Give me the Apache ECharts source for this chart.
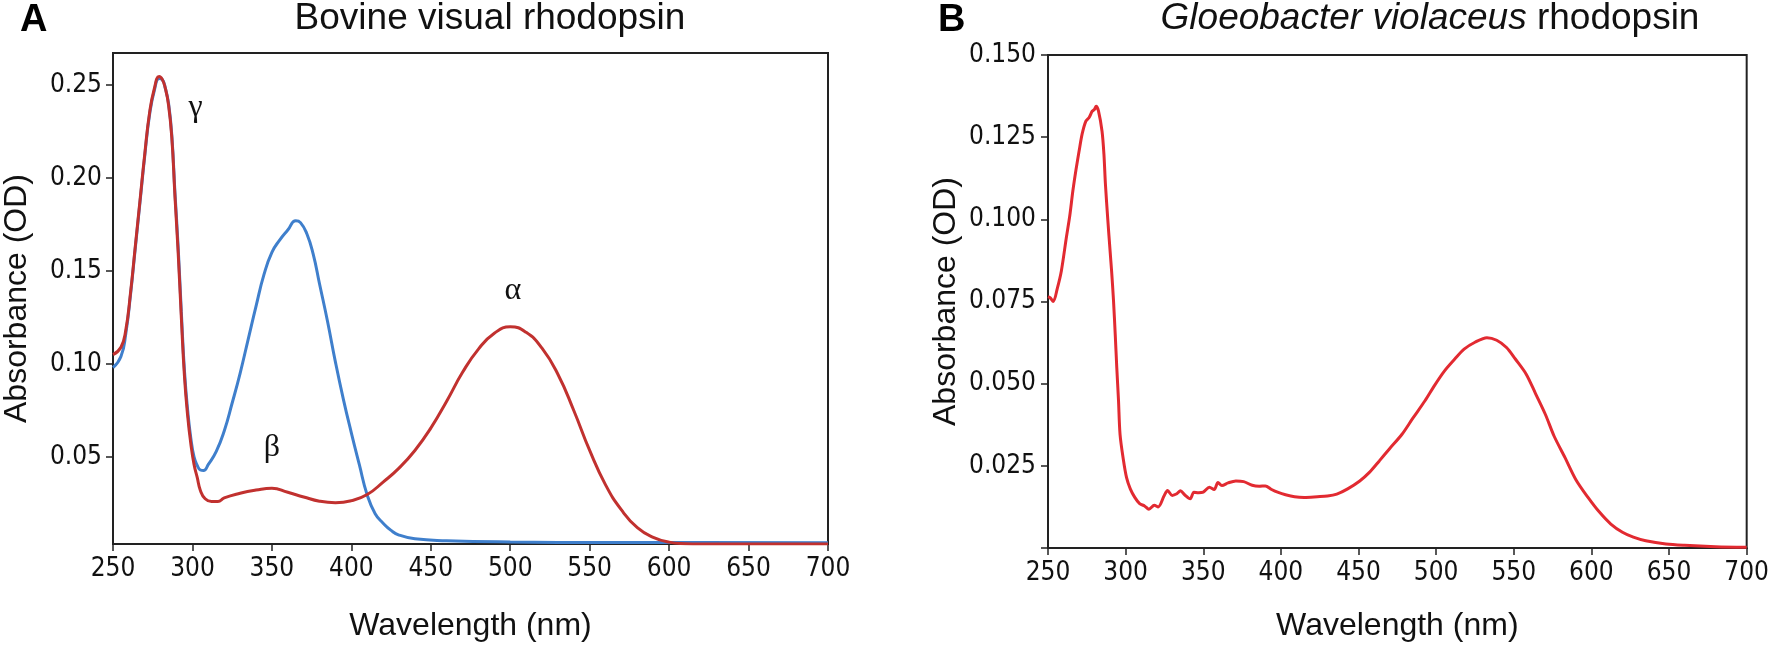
<!DOCTYPE html>
<html>
<head>
<meta charset="utf-8">
<script src="https://cdn.jsdelivr.net/npm/echarts@6/dist/echarts.min.js"></script>
<style>
  html, body { margin: 0; padding: 0; background: #fff; }
  #chart-container { width: 1772px; height: 651px; }
</style>
</head>
<body>
<div id="chart-container"></div>
<script>
(function () {

    // --- Panel A: bovine visual rhodopsin (dark = red, bleached = blue) ---
    const bovineDarkX = [250, 255, 258, 261, 264, 267, 270, 273, 276, 279, 281, 283, 285, 287, 289, 291, 293, 295, 297, 299, 301, 303, 305, 308, 312, 316, 320, 330, 340, 350, 360, 370, 380, 390, 400, 410, 420, 430, 440, 450, 460, 470, 480, 490, 500, 510, 520, 530, 540, 550, 560, 570, 580, 590, 600, 610, 620, 660, 700];
    const bovineDarkY = [0.105, 0.109, 0.118, 0.138, 0.163, 0.188, 0.213, 0.235, 0.248, 0.2545, 0.253, 0.248, 0.239, 0.222, 0.19, 0.16, 0.125, 0.093, 0.072, 0.057, 0.046, 0.039, 0.032, 0.0275, 0.026, 0.026, 0.028, 0.0305, 0.0322, 0.0332, 0.031, 0.0285, 0.0262, 0.0254, 0.0265, 0.0298, 0.0365, 0.044, 0.0535, 0.0655, 0.08, 0.0955, 0.108, 0.1165, 0.12, 0.117, 0.1085, 0.0945, 0.075, 0.0535, 0.035, 0.0215, 0.012, 0.0068, 0.0042, 0.0034, 0.0032, 0.0032, 0.0032];

    const bovineLightX = [250, 255, 258, 261, 264, 267, 270, 273, 276, 279, 281, 283, 285, 287, 289, 291, 293, 295, 297, 299, 301, 303, 305, 307, 310, 315, 320, 325, 330, 335, 340, 345, 350, 355, 360, 365, 368, 372, 376, 380, 385, 390, 395, 400, 405, 410, 415, 420, 425, 430, 440, 460, 500, 560, 620, 700];
    const bovineLightY = [0.098, 0.104, 0.116, 0.137, 0.162, 0.187, 0.212, 0.234, 0.247, 0.2535, 0.253, 0.248, 0.24, 0.223, 0.192, 0.163, 0.128, 0.096, 0.075, 0.06, 0.05, 0.0455, 0.043, 0.0427, 0.046, 0.053, 0.064, 0.079, 0.095, 0.113, 0.131, 0.148, 0.16, 0.1667, 0.172, 0.177, 0.176, 0.17, 0.159, 0.143, 0.123, 0.101, 0.081, 0.063, 0.046, 0.0295, 0.0195, 0.0144, 0.0105, 0.008, 0.006, 0.005, 0.0043, 0.004, 0.004, 0.0039];

    // --- Panel B: Gloeobacter violaceus rhodopsin ---
    const gloeoX = [250, 251.3, 253.4, 256, 258.6, 261.8, 264, 266, 268, 270, 272, 274.4, 276.5, 278.5, 280, 281, 282.5, 284.8, 286, 287, 288.5, 290, 291, 292.2, 293.3, 294.3, 295.4, 296.4, 298.5, 300.6, 303, 305.9, 309, 312.2, 315, 318.5, 321, 324.8, 327, 330, 333, 335.3, 338, 341.6, 344, 347, 350, 354, 357, 359.5, 362, 366, 371, 376, 381.5, 386, 390, 394, 398.3, 403, 408.8, 415, 423.5, 430, 436, 443, 450.8, 457, 463.4, 470, 478, 485, 492.8, 499, 505.4, 512, 518, 525, 532.7, 539, 545.3, 551, 558, 564, 570.3, 576, 583, 590, 597.8, 605, 612.5, 620, 627, 635, 648, 660, 680, 700];
    const gloeoY = [0.0765, 0.0762, 0.075, 0.079, 0.0843, 0.0944, 0.101, 0.1086, 0.115, 0.1207, 0.126, 0.1299, 0.131, 0.1329, 0.1335, 0.1344, 0.133, 0.1268, 0.12, 0.1106, 0.1, 0.0903, 0.084, 0.0752, 0.065, 0.0549, 0.045, 0.0346, 0.027, 0.0214, 0.018, 0.0154, 0.0135, 0.0128, 0.0118, 0.013, 0.0125, 0.0159, 0.0175, 0.016, 0.0165, 0.0174, 0.0162, 0.015, 0.017, 0.0168, 0.017, 0.0185, 0.0178, 0.0199, 0.019, 0.0198, 0.0204, 0.0202, 0.0191, 0.0188, 0.0189, 0.0178, 0.0169, 0.0162, 0.0156, 0.0154, 0.0156, 0.0158, 0.0164, 0.018, 0.0204, 0.023, 0.0265, 0.0302, 0.0346, 0.0395, 0.0448, 0.0495, 0.0539, 0.0575, 0.0605, 0.0626, 0.064, 0.0632, 0.061, 0.0575, 0.0529, 0.047, 0.0407, 0.034, 0.0275, 0.0208, 0.0154, 0.011, 0.0073, 0.0048, 0.0033, 0.0022, 0.0012, 0.0008, 0.0004, 0.0002];

    // tick values shown on panel A's y axis
    const bovineYTicks = [0.05, 0.10, 0.15, 0.20, 0.25];

    // band labels (wavelength, absorbance, glyph)
    const bandLabels = [
        [302, 0.2376, 'γ'],
        [350, 0.0548, 'β'],
        [501.6, 0.1392, 'α']
    ];

    const zip = (xs, ys) => xs.map((x, i) => [x, ys[i]]);

    const tickFont = "'Liberation Sans Narrow', 'DejaVu Sans Condensed', 'Arial Narrow', sans-serif";
    const textFont = "'Liberation Sans', Arial, sans-serif";
    const axisColor = '#222';

    function xAxisFor(gridIndex, nameGap) {
        return {
            type: 'value', gridIndex: gridIndex,
            min: 250, max: 700, interval: 50,
            name: 'Wavelength (nm)', nameLocation: 'middle', nameGap: nameGap,
            nameTextStyle: { fontFamily: textFont, fontSize: 32, color: '#111' },
            axisLine: { lineStyle: { color: axisColor, width: 2 } },
            axisTick: { length: 7, lineStyle: { color: axisColor, width: 1.5 } },
            axisLabel: { fontFamily: tickFont, fontSize: 26, color: '#111', margin: 12 },
            splitLine: { show: false }
        };
    }

    const chartDom = document.getElementById('chart-container');
    const myChart = echarts.init(chartDom, null, { renderer: 'canvas' });

    const option = {
        backgroundColor: '#fff',
        animation: false,
        graphic: [
            { type: 'text', x: 20, y: 21, style: { text: 'A', font: "bold 38px 'Liberation Sans', Arial, sans-serif", fill: '#000', verticalAlign: 'middle' } },
            { type: 'text', x: 938, y: 21, style: { text: 'B', font: "bold 38px 'Liberation Sans', Arial, sans-serif", fill: '#000', verticalAlign: 'middle' } },
            { type: 'text', x: 490, y: 19, style: { text: 'Bovine visual rhodopsin', font: "37px 'Liberation Sans', Arial, sans-serif", fill: '#111', align: 'center', verticalAlign: 'middle' } },
            {
                type: 'text', x: 1430, y: 19,
                style: {
                    text: '{i|Gloeobacter violaceus} rhodopsin',
                    font: "37px 'Liberation Sans', Arial, sans-serif", fill: '#111', align: 'center', verticalAlign: 'middle',
                    rich: { i: { fontStyle: 'italic', fontSize: 37, fontFamily: textFont, fill: '#111' } }
                }
            }
        ],
        grid: [
            { left: 113, top: 53, right: 944, bottom: 107, show: true, borderColor: axisColor, borderWidth: 2, backgroundColor: 'transparent' },
            { left: 1048, top: 55, right: 10, bottom: 103, show: true, borderColor: axisColor, borderWidth: 2, backgroundColor: 'transparent' }
        ],
        xAxis: [xAxisFor(0, 66), xAxisFor(1, 62)],
        yAxis: [
            {
                type: 'value', gridIndex: 0,
                min: 0.0032, max: 0.2672,
                name: 'Absorbance (OD)', nameLocation: 'middle', nameGap: 80,
                nameTextStyle: { fontFamily: textFont, fontSize: 32, color: '#111' },
                axisLine: { show: true, lineStyle: { color: axisColor, width: 2 } },
                axisTick: { show: true, length: 7, customValues: bovineYTicks, lineStyle: { color: axisColor, width: 1.5 } },
                axisLabel: { fontFamily: tickFont, fontSize: 26, color: '#111', margin: 11, customValues: bovineYTicks, formatter: v => v.toFixed(2) },
                splitLine: { show: false }
            },
            {
                type: 'value', gridIndex: 1,
                min: 0, max: 0.15, interval: 0.025,
                name: 'Absorbance (OD)', nameLocation: 'middle', nameGap: 86,
                nameTextStyle: { fontFamily: textFont, fontSize: 32, color: '#111' },
                axisLine: { show: true, lineStyle: { color: axisColor, width: 2 } },
                axisTick: { show: true, length: 7, lineStyle: { color: axisColor, width: 1.5 } },
                axisLabel: { fontFamily: tickFont, fontSize: 26, color: '#111', margin: 12, formatter: v => v === 0 ? '' : v.toFixed(3) },
                splitLine: { show: false }
            }
        ],
        series: [
            {
                name: 'bleached', type: 'line', xAxisIndex: 0, yAxisIndex: 0,
                data: zip(bovineLightX, bovineLightY),
                showSymbol: false, smooth: 0.5,
                lineStyle: { color: '#3f7fcc', width: 3 }
            },
            {
                name: 'dark', type: 'line', xAxisIndex: 0, yAxisIndex: 0,
                data: zip(bovineDarkX, bovineDarkY),
                showSymbol: false, smooth: 0.5,
                lineStyle: { color: '#c1312f', width: 3 },
                markPoint: {
                    symbol: 'circle', symbolSize: 0, silent: true,
                    label: {
                        show: true, position: 'inside', color: '#111',
                        fontFamily: "'Liberation Serif', 'DejaVu Serif', serif", fontSize: 32,
                        formatter: p => p.name
                    },
                    data: bandLabels.map(b => ({ name: b[2], coord: [b[0], b[1]] }))
                }
            },
            {
                name: 'GR', type: 'line', xAxisIndex: 1, yAxisIndex: 1,
                data: zip(gloeoX, gloeoY),
                showSymbol: false, smooth: 0.3,
                lineStyle: { color: '#e22a31', width: 3 }
            }
        ]
    };
    myChart.setOption(option);
}());
</script>
</body>
</html>
